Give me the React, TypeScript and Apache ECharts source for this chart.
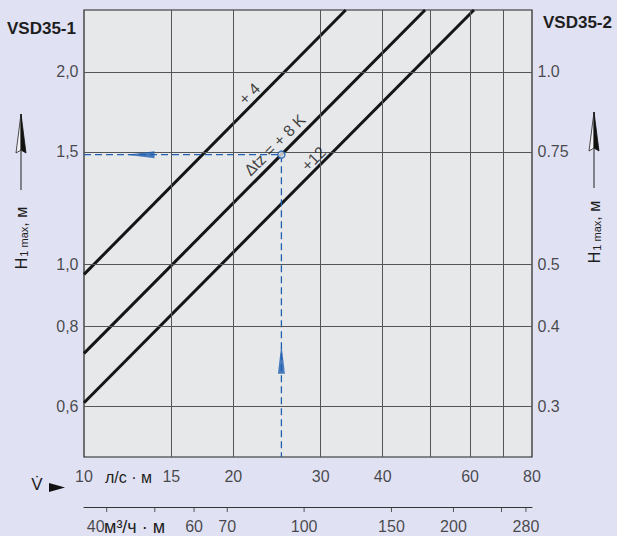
import React, { useEffect, useRef } from "react";
import * as echarts from "echarts";

// Flow per metre, l/(s·m): labelled ticks and vertical grid lines
const vLabels = [10, 15, 20, 30, 40, 60, 80];
const vGrid = [15, 20, 30, 40, 50, 60, 70];
// Height H1 max (VSD35-1, left) and VSD35-2 (right)
const hLeftLabels = [2.0, 1.5, 1.0, 0.8, 0.6];
const hRightLabels = [1.0, 0.75, 0.5, 0.4, 0.3];
// Secondary flow scale, m³/(h·m)
const qTicks = [40, 50, 60, 70, 100, 150, 200, 250, 280];
const qLabels = [40, 60, 70, 100, 150, 200, 280];
// Characteristic lines (Δtz = +4, +8, +12 K): [V, H]
const line4 = [[10, 0.965], [33.7, 2.5]];
const line8 = [[10, 0.726], [48.7, 2.5]];
const line12 = [[10, 0.608], [61.1, 2.5]];
// Example reading
const opPoint = [25, 1.485];
const arrowLeftAt = [13.0, 1.485];
const arrowUpAt = [25, 0.712];
// Line label anchors [V, H, text]
const lineLabels: [number, number, string][] = [
  [21.6, 1.845, "+ 4"],
  [24.3, 1.535, "Δtz = + 8 K"],
  [29.1, 1.46, "+12"],
];

const FONT = "'Liberation Sans', Arial, Helvetica, sans-serif";
const TXT = "#1e1e1e";
const BLUE = "#1f5fb0";

export default function App() {
  const ref = useRef<HTMLDivElement>(null);
  useEffect(() => {
    const chart = echarts.init(ref.current!, null, { renderer: "svg" });
    const lineStyleMain = { color: "#151515", width: 3 };
    const option: any = {
      animation: false,
      backgroundColor: "#E0E1F2",
      textStyle: { fontFamily: FONT },
      grid: [
        {
          left: 84, top: 10, width: 448, height: 447,
          show: true, backgroundColor: "#E7E8EA", borderColor: "#222", borderWidth: 1.2,
        },
        { left: 84, top: 506, width: 448, height: 1, show: false },
      ],
      xAxis: [
        { type: "log", logBase: 10, min: 10, max: 80, gridIndex: 0,
          axisLine: { show: false }, axisTick: { show: false }, axisLabel: { show: false }, splitLine: { show: false } },
        { type: "log", logBase: 10, min: 36, max: 288, gridIndex: 1, position: "bottom",
          axisLine: { show: true, onZero: false, lineStyle: { color: "#333", width: 1 } },
          axisTick: { show: false }, axisLabel: { show: false }, splitLine: { show: false } },
      ],
      yAxis: [
        { type: "log", logBase: 10, min: 0.5, max: 2.5, gridIndex: 0, position: "left",
          axisLine: { show: false }, axisTick: { show: false }, axisLabel: { show: false }, splitLine: { show: false } },
        { type: "log", logBase: 10, min: 0.25, max: 1.25, gridIndex: 0, position: "right",
          axisLine: { show: false }, axisTick: { show: false }, axisLabel: { show: false }, splitLine: { show: false } },
        { type: "value", min: 0, max: 1, gridIndex: 1, show: false },
      ],
      series: [
        {
          type: "line", xAxisIndex: 0, yAxisIndex: 0, data: [], silent: true, z: 1,
          markLine: {
            silent: true, symbol: ["none", "none"], label: { show: false },
            lineStyle: { color: "#555", type: "solid", width: 1 },
            data: [
              ...vGrid.map((v) => ({ xAxis: v })),
              ...hLeftLabels.map((h) => ({ yAxis: h })),
            ],
          },
        },
        { type: "line", data: line4, symbol: "none", lineStyle: lineStyleMain, z: 3 },
        { type: "line", data: line8, symbol: "none", lineStyle: lineStyleMain, z: 3 },
        { type: "line", data: line12, symbol: "none", lineStyle: lineStyleMain, z: 3 },
        {
          type: "line", z: 4, symbol: "none",
          data: [[10, opPoint[1]], opPoint, [opPoint[0], 0.5]],
          lineStyle: { color: BLUE, width: 1.3, type: [7, 4] },
        },
        {
          type: "scatter", z: 5, data: [opPoint], symbol: "circle", symbolSize: 7,
          itemStyle: { color: "#E7E8EA", borderColor: BLUE, borderWidth: 1.5 },
        },
        {
          type: "scatter", z: 5, data: [arrowLeftAt], symbol: "triangle", symbolSize: [7, 28], symbolRotate: 90,
          itemStyle: { color: BLUE },
        },
        {
          type: "scatter", z: 5, data: [arrowUpAt], symbol: "triangle", symbolSize: [7, 30],
          itemStyle: { color: BLUE },
        },
        // line labels
        {
          type: "scatter", z: 6, symbolSize: 1, itemStyle: { color: "transparent" },
          data: lineLabels.map((l) => ({ value: [l[0], l[1]], name: l[2] })),
          label: {
            show: true, position: [0, 0], align: "center", verticalAlign: "middle", rotate: 45,
            formatter: (p: any) => p.name,
            fontSize: 16, color: "#111", fontFamily: FONT, textBorderWidth: 0,
          },
        },
        // bottom l/s labels
        {
          type: "scatter", z: 6, symbolSize: 1, itemStyle: { color: "transparent" },
          data: vLabels.map((v) => [v, 0.5]),
          label: {
            show: true, position: "bottom", distance: 11, formatter: (p: any) => String(p.value[0]),
            fontSize: 16, color: TXT, fontFamily: FONT,
          },
        },
        // left labels
        {
          type: "scatter", z: 6, symbolSize: 1, itemStyle: { color: "transparent" },
          data: hLeftLabels.map((h) => [10, h]),
          label: {
            show: true, position: "left", distance: 5,
            formatter: (p: any) => p.value[1].toFixed(1).replace(".", ","),
            fontSize: 16, color: TXT, fontFamily: FONT,
          },
        },
        // right labels
        {
          type: "scatter", z: 6, yAxisIndex: 1, symbolSize: 1, itemStyle: { color: "transparent" },
          data: hRightLabels.map((h) => [80, h]),
          label: {
            show: true, position: "right", distance: 5,
            formatter: (p: any) => (p.value[1] === 1 ? "1.0" : String(p.value[1])),
            fontSize: 16, color: TXT, fontFamily: FONT,
          },
        },
        // secondary axis ticks
        {
          type: "scatter", xAxisIndex: 1, yAxisIndex: 2, z: 6, symbol: "rect", symbolSize: [1, 5],
          symbolOffset: [0, 2.5], itemStyle: { color: "#333" },
          data: qTicks.map((q) => [q, 0]),
        },
        // secondary axis labels
        {
          type: "scatter", xAxisIndex: 1, yAxisIndex: 2, z: 6, symbolSize: 1, itemStyle: { color: "transparent" },
          data: qLabels.map((q) => (q === 40 ? { value: [q, 0], label: { offset: [-11, 0] } } : [q, 0])),
          label: {
            show: true, position: "bottom", distance: 11, formatter: (p: any) => String(p.value[0]),
            fontSize: 16, color: TXT, fontFamily: FONT,
          },
        },
      ],
      graphic: [
        { type: "text", x: 7, y: 28, style: { text: "VSD35-1", font: `bold 17px ${FONT}`, fill: TXT, verticalAlign: "middle" } },
        { type: "text", x: 543, y: 22, style: { text: "VSD35-2", font: `bold 17px ${FONT}`, fill: TXT, verticalAlign: "middle" } },
        { type: "text", x: 105, y: 477, style: { text: "л/с · м", font: `16px ${FONT}`, fill: TXT, verticalAlign: "middle" } },
        { type: "text", x: 104, y: 527, style: { text: "м³/ч · м", font: `18px ${FONT}`, fill: TXT, verticalAlign: "middle" } },
        { type: "text", x: 37, y: 484, style: { text: "V̇", font: `17px ${FONT}`, fill: TXT, align: "center", verticalAlign: "middle" } },
        { type: "polygon", shape: { points: [[49, 483], [65, 487.5], [49, 492]] }, style: { fill: "#111" } },
        // left vertical title
        {
          type: "text", x: 21, y: 238, rotation: Math.PI / 2,
          style: {
            text: "{h|H}{s|1 max}{h|, м}", align: "center", verticalAlign: "middle",
            rich: {
              h: { fontSize: 16, fontFamily: FONT, fill: TXT, color: TXT },
              s: { fontSize: 11, fontFamily: FONT, fill: TXT, color: TXT, padding: [6, 0, 0, 1] },
            },
          },
        },
        {
          type: "text", x: 594, y: 232, rotation: Math.PI / 2,
          style: {
            text: "{h|H}{s|1 max}{h|, м}", align: "center", verticalAlign: "middle",
            rich: {
              h: { fontSize: 16, fontFamily: FONT, fill: TXT, color: TXT },
              s: { fontSize: 11, fontFamily: FONT, fill: TXT, color: TXT, padding: [6, 0, 0, 1] },
            },
          },
        },
        // left arrow
        { type: "line", shape: { x1: 21, y1: 150, x2: 21, y2: 190 }, style: { stroke: "#222", lineWidth: 1 } },
        { type: "polygon", shape: { points: [[21, 114], [16, 153], [21, 150]] }, style: { fill: "#f2f2f6", stroke: "#222", lineWidth: 0.8 } },
        { type: "polygon", shape: { points: [[21, 114], [26, 153], [21, 150]] }, style: { fill: "#111", stroke: "#111", lineWidth: 0.8 } },
        // right arrow
        { type: "line", shape: { x1: 594, y1: 148, x2: 594, y2: 188 }, style: { stroke: "#222", lineWidth: 1 } },
        { type: "polygon", shape: { points: [[594, 112], [589, 151], [594, 148]] }, style: { fill: "#f2f2f6", stroke: "#222", lineWidth: 0.8 } },
        { type: "polygon", shape: { points: [[594, 112], [599, 151], [594, 148]] }, style: { fill: "#111", stroke: "#111", lineWidth: 0.8 } },
      ],
    };
    chart.setOption(option);
    return () => chart.dispose();
  }, []);
  return <div ref={ref} style={{ position: "fixed", left: 0, top: 0, width: 617, height: 536 }} />;
}
